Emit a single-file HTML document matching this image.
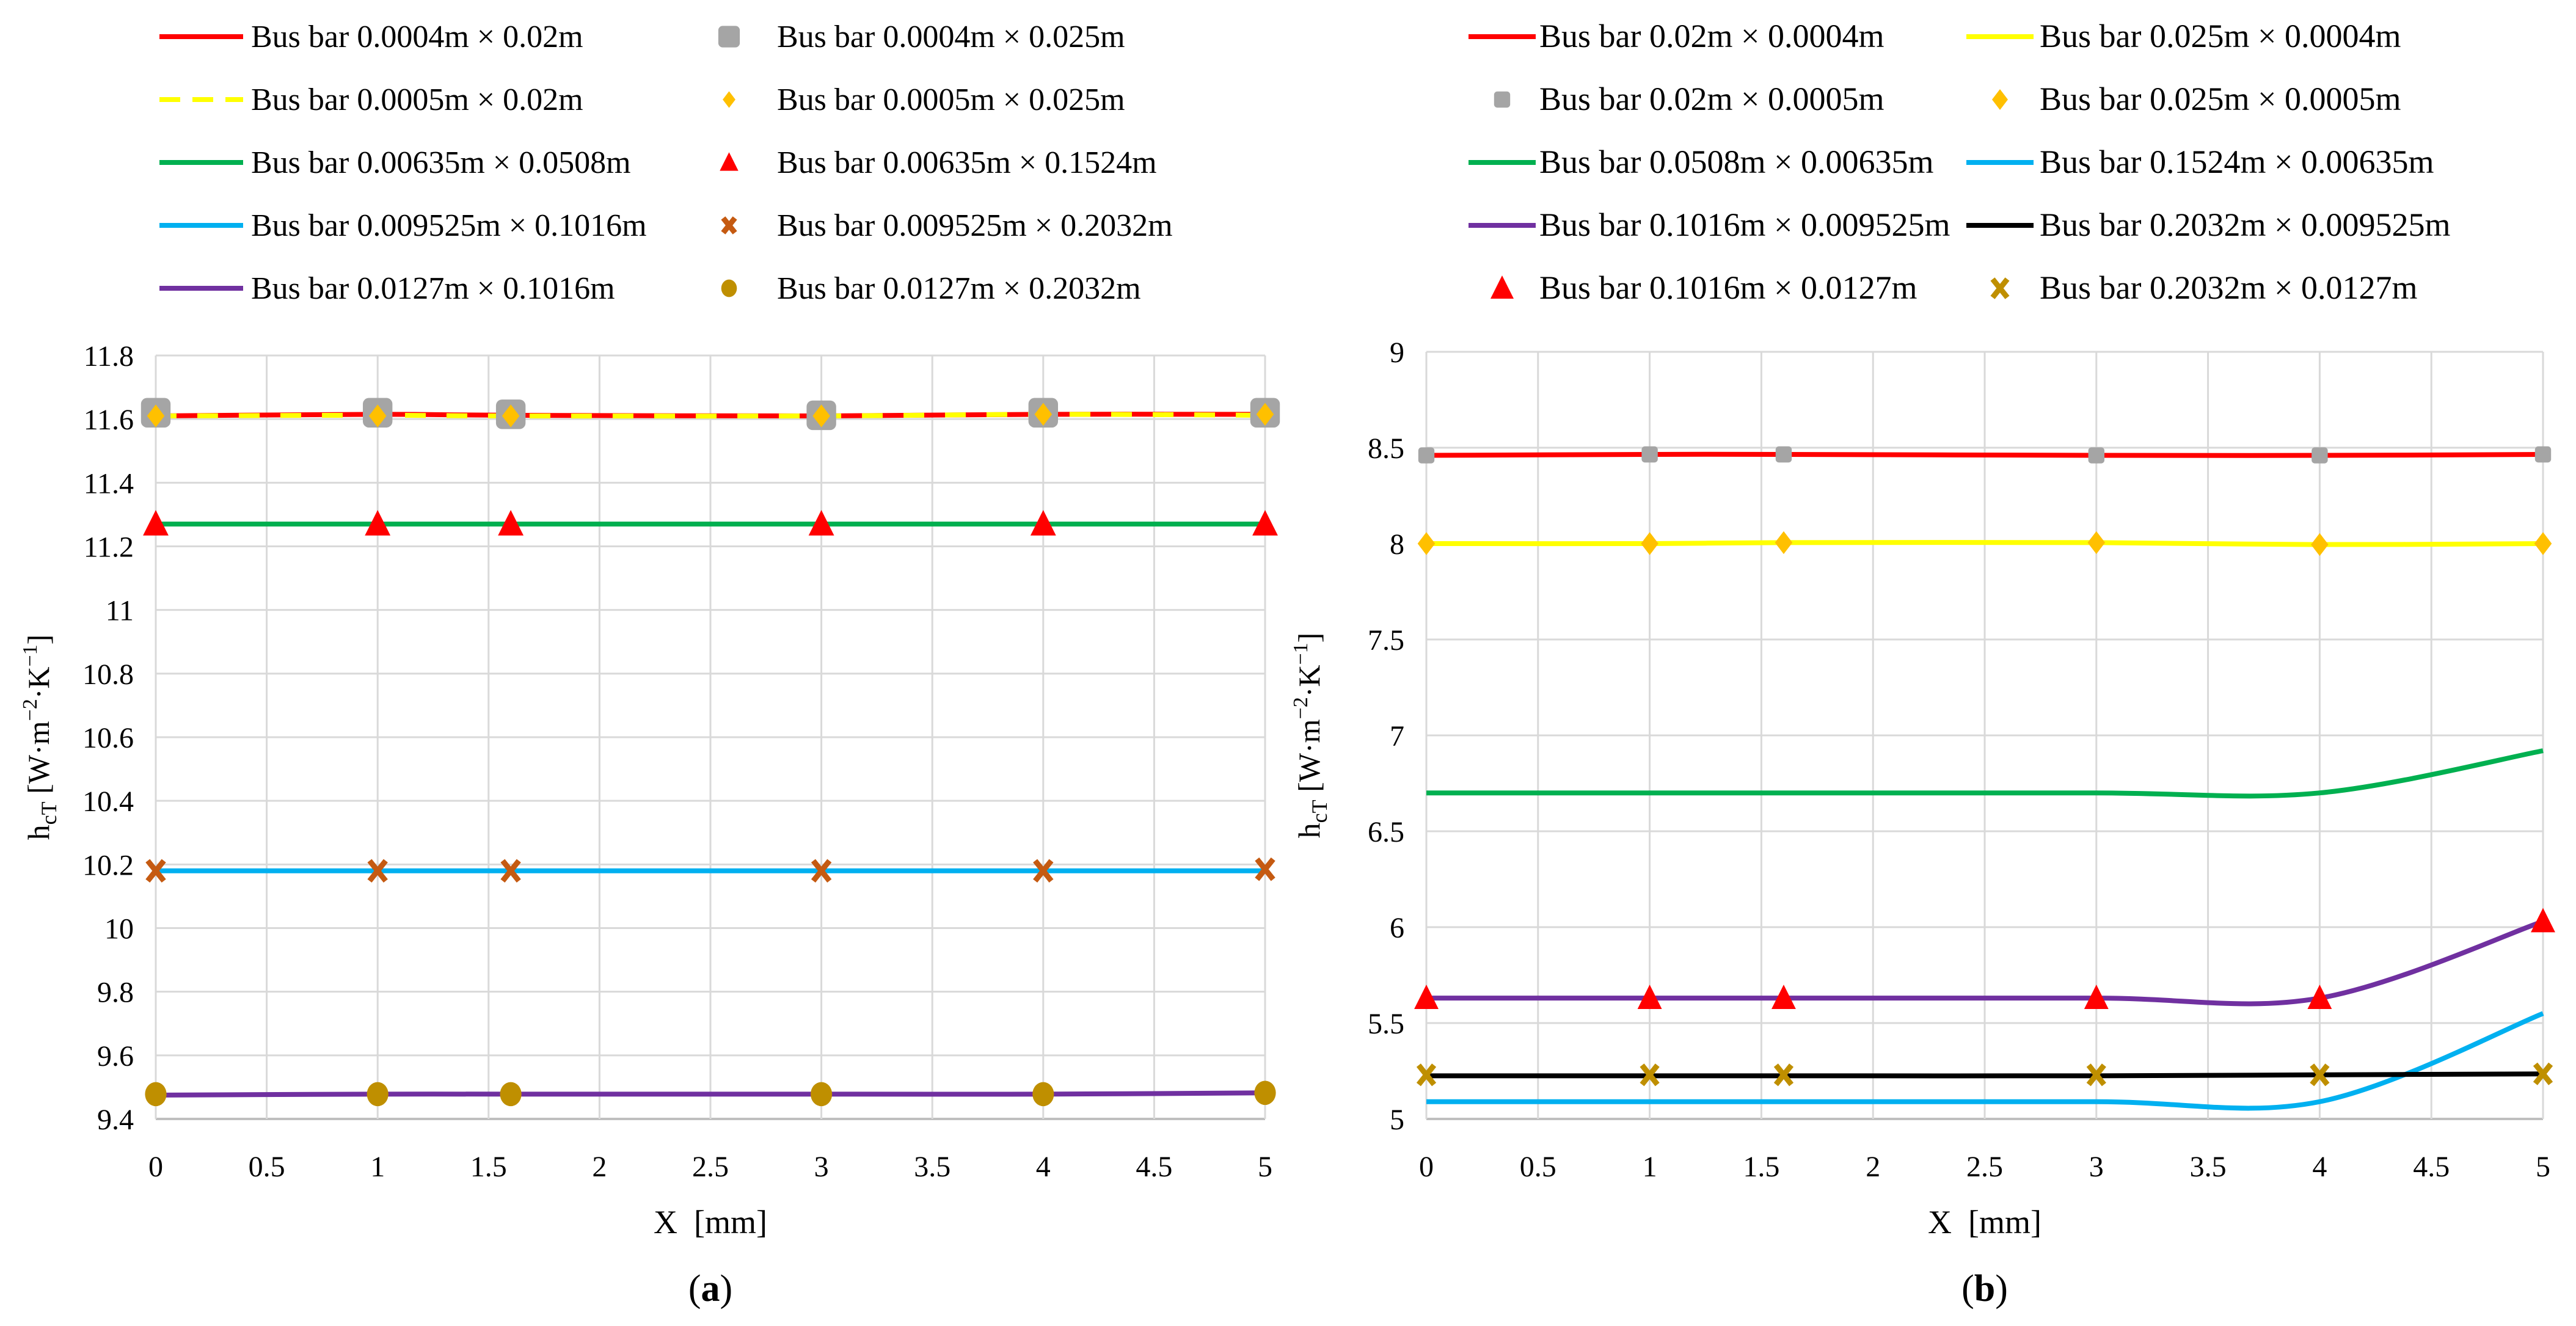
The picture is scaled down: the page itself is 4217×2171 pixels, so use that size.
<!DOCTYPE html>
<html><head><meta charset="utf-8">
<style>
html,body{margin:0;padding:0;background:#fff;}
svg{display:block;}
text{font-family:"Liberation Serif",serif;fill:#000;}
</style></head>
<body>
<svg id="fig" width="4217" height="2171" viewBox="0 0 4217 2171" xmlns="http://www.w3.org/2000/svg"></svg>
<script>
// ---------- data: chart (a) ----------
const xA = [0, 1, 1.6, 3, 4, 5];
const aRed = [11.61, 11.615, 11.612, 11.61, 11.615, 11.615];
const aYellow = [11.61, 11.612, 11.61, 11.61, 11.615, 11.612];
const aGreen = [11.27, 11.27, 11.27, 11.27, 11.27, 11.27];
const aCyan = [10.18, 10.18, 10.18, 10.18, 10.18, 10.18];
const aPurple = [9.475, 9.478, 9.478, 9.478, 9.478, 9.482];
const aGreySq = [11.62, 11.62, 11.615, 11.612, 11.62, 11.62];
const aDiamond = [11.61, 11.61, 11.61, 11.61, 11.615, 11.615];
const aTriangle = [11.27, 11.27, 11.27, 11.27, 11.27, 11.27];
const aCross = [10.18, 10.18, 10.18, 10.18, 10.18, 10.185];
const aCircle = [9.478, 9.478, 9.478, 9.478, 9.478, 9.482];
const yTicksA = ["9.4","9.6","9.8","10","10.2","10.4","10.6","10.8","11","11.2","11.4","11.6","11.8"];
// ---------- data: chart (b) ----------
const xB = [0, 1, 1.6, 3, 4, 5];
const bRed = [8.46, 8.465, 8.465, 8.46, 8.46, 8.465];
const bYellow = [8.0, 8.0, 8.005, 8.005, 7.995, 8.0];
const bGreen = [6.7, 6.7, 6.7, 6.7, 6.7, 6.92];
const bCyan = [5.09, 5.09, 5.09, 5.09, 5.09, 5.55];
const bPurple = [5.63, 5.63, 5.63, 5.63, 5.63, 6.03];
const bBlack = [5.225, 5.225, 5.225, 5.225, 5.23, 5.235];
const bGreySq = [8.46, 8.465, 8.465, 8.46, 8.46, 8.465];
const bDiamond = [8.0, 8.0, 8.005, 8.005, 7.995, 8.0];
const bTriangle = [5.63, 5.63, 5.63, 5.63, 5.63, 6.03];
const bCross = [5.23, 5.23, 5.23, 5.23, 5.23, 5.235];
const yTicksB = ["5","5.5","6","6.5","7","7.5","8","8.5","9"];
const xTicks = ["0","0.5","1","1.5","2","2.5","3","3.5","4","4.5","5"];

const NS = "http://www.w3.org/2000/svg";
const svg = document.getElementById('fig');
function el(tag, attrs, parent){
  const e = document.createElementNS(NS, tag);
  for (const k in attrs) e.setAttribute(k, attrs[k]);
  (parent||svg).appendChild(e);
  return e;
}
function spline(pts){
  let d = "M"+pts[0][0]+","+pts[0][1];
  for (let i=0;i<pts.length-1;i++){
    const p0=pts[Math.max(0,i-1)], p1=pts[i], p2=pts[i+1], p3=pts[Math.min(pts.length-1,i+2)];
    const c1x=p1[0]+(p2[0]-p0[0])/6, c1y=p1[1]+(p2[1]-p0[1])/6;
    const c2x=p2[0]-(p3[0]-p1[0])/6, c2y=p2[1]-(p3[1]-p1[1])/6;
    d += " C"+c1x+","+c1y+" "+c2x+","+c2y+" "+p2[0]+","+p2[1];
  }
  return d;
}
function marker(g, type, cx, cy, color, s){
  s = s||1;
  let m;
  if (type==='square') m = el('rect',{x:cx-22*s,y:cy-22*s,width:44*s,height:44*s,rx:9*s,fill:color},g);
  else if (type==='diamond') m = el('polygon',{points:`${cx},${cy-17*s} ${cx+13*s},${cy} ${cx},${cy+17*s} ${cx-13*s},${cy}`,fill:color},g);
  else if (type==='triangle') m = el('polygon',{points:`${cx},${cy-21*s} ${cx+19*s},${cy+17*s} ${cx-19*s},${cy+17*s}`,fill:color},g);
  else if (type==='circle') m = el('ellipse',{cx:cx,cy:cy,rx:16*s,ry:18*s,fill:color},g);
  else if (type==='cross'){
    m = el('path',{d:`M${cx-12*s},${cy-15*s} L${cx+12*s},${cy+15*s} M${cx+12*s},${cy-15*s} L${cx-12*s},${cy+15*s}`,stroke:color,'stroke-width':9,fill:'none'},g);
  }
  return m;
}
function chart(cfg){
  const g = el('g',{});
  
  
  const L=cfg.left,R=cfg.right,T=cfg.top,B=cfg.bottom;
  const sx = v => L + (v-0)/(5-0)*(R-L);
  const sy = v => B - (v-cfg.ymin)/(cfg.ymax-cfg.ymin)*(B-T);
  cfg.yTicks.forEach(t=>{
    const v=parseFloat(t), y=sy(v);
    const ln = el('line',{x1:L,x2:R,y1:y,y2:y,stroke:v===cfg.ymin?'#bfbfbf':'#d9d9d9','stroke-width':v===cfg.ymin?4:3},g);
    
    
    const tx = el('text',{x:L-36,y:y+17,'font-size':48,'text-anchor':'end','font-family':cfg.tickFont},g);
    tx.textContent=t;
    
    
  });
  xTicks.forEach(t=>{
    const v=parseFloat(t), x=sx(v);
    const ln = el('line',{x1:x,x2:x,y1:T,y2:B,stroke:'#d9d9d9','stroke-width':3},g);
    
    
    const tx = el('text',{x:x,y:B+94,'font-size':48,'text-anchor':'middle','font-family':cfg.tickFont},g);
    tx.textContent=t;
    
    
  });
  const xt = el('text',{x:(L+R)/2,y:B+187,'font-size':54,'text-anchor':'middle'},g);
  xt.innerHTML='X&#160;&#160;[mm]';
  
  
  const yt = el('text',{transform:`translate(${L-175},${(T+B)/2}) rotate(-90)`,'font-size':50,'text-anchor':'middle'},g);
  yt.innerHTML='h<tspan font-size="36" dy="12">cT</tspan><tspan dy="-12"> [W·m</tspan><tspan font-size="34" dy="-20">−2</tspan><tspan dy="20">·K</tspan><tspan font-size="34" dy="-20">−1</tspan><tspan dy="20">]</tspan>';
  
  
  const cap = el('text',{x:(L+R)/2,y:2130,'font-size':62,'text-anchor':'middle'},g);
  cap.innerHTML='(<tspan font-weight="bold">'+cfg.cap+'</tspan>)';
  
  
  cfg.lines.forEach(s=>{
    const pts = cfg.x.map((xv,i)=>[sx(xv),sy(s.v[i])]);
    const p = el('path',{d:spline(pts),stroke:s.c,'stroke-width':8,fill:'none'},g);
    if (s.dash) p.setAttribute('stroke-dasharray', s.dash);
    
    
  });
  cfg.marks.forEach(s=>{
    const mg = el('g',{},g);
    
    
    cfg.x.forEach((xv,i)=>{ marker(mg, s.t, sx(xv), sy(s.v[i]), s.c, s.s); });
  });
  cfg.legend.forEach((it,i)=>{
    const col = i%2, row = Math.floor(i/2);
    const lx = cfg.legX[col], ly = 60 + row*103;
    const lg = el('g',{},g);
    
    
    if (it.t==='line'){
      const l = el('line',{x1:lx,x2:lx+cfg.legLen,y1:ly,y2:ly,stroke:it.c,'stroke-width':8},lg);
      if (it.dash) l.setAttribute('stroke-dasharray', it.dash);
    } else marker(lg, it.t, lx+cfg.legLen/2, ly, it.c, it.s||0.8);
    const tx = el('text',{x:cfg.legT[col],y:ly+17,'font-size':cfg.legFont},lg);
    tx.textContent = it.label;
  });
}
const RED='#ff0000',YEL='#ffff00',GRN='#00b050',CYN='#00b0f0',PUR='#7030a0',GRY='#a5a5a5',ORG='#ffc000',BRN='#bf8f00',CRS='#c55a11';
chart({name:'chart-a',cap:'a',left:255,right:2071,top:582,bottom:1832,ymin:9.4,ymax:11.8,x:xA,yTicks:yTicksA,tickFont:'Liberation Serif, serif',
  lines:[{v:aGreen,c:GRN,name:'line-00635x05080'},{v:aCyan,c:CYN,name:'line-009525x1016'},{v:aPurple,c:PUR,name:'line-0127x1016'},
         {v:aRed,c:RED,name:'line-00004x002'},{v:aYellow,c:YEL,dash:'34,34',name:'line-00005x002'}],
  marks:[{v:aGreySq,t:'square',c:GRY,s:1.1,name:'markers-00004x0025'},{v:aDiamond,t:'diamond',c:ORG,s:1.1,name:'markers-00005x0025'},
         {v:aTriangle,t:'triangle',c:RED,s:1.1,name:'markers-00635x1524'},{v:aCross,t:'cross',c:CRS,s:1.1,name:'markers-009525x2032'},
         {v:aCircle,t:'circle',c:BRN,s:1.1,name:'markers-0127x2032'}],
  legX:[261,1125],legLen:137,legT:[411,1272],legFont:52,
  legend:[{t:'line',c:RED,label:'Bus bar 0.0004m × 0.02m'},{t:'square',c:GRY,label:'Bus bar 0.0004m × 0.025m'},
          {t:'line',c:YEL,dash:'34,20',label:'Bus bar 0.0005m × 0.02m'},{t:'diamond',c:ORG,label:'Bus bar 0.0005m × 0.025m'},
          {t:'line',c:GRN,label:'Bus bar 0.00635m × 0.0508m'},{t:'triangle',c:RED,label:'Bus bar 0.00635m × 0.1524m'},
          {t:'line',c:CYN,label:'Bus bar 0.009525m × 0.1016m'},{t:'cross',c:CRS,label:'Bus bar 0.009525m × 0.2032m'},
          {t:'line',c:PUR,label:'Bus bar 0.0127m × 0.1016m'},{t:'circle',c:BRN,label:'Bus bar 0.0127m × 0.2032m'}]
});
chart({name:'chart-b',cap:'b',left:2335,right:4163,top:576,bottom:1832,ymin:5,ymax:9,x:xB,yTicks:yTicksB,tickFont:'Liberation Sans, sans-serif',
  lines:[{v:bRed,c:RED,name:'line-002x00004'},{v:bYellow,c:YEL,name:'line-0025x00004'},{v:bGreen,c:GRN,name:'line-00508x000635'},
         {v:bCyan,c:CYN,name:'line-01524x000635'},{v:bPurple,c:PUR,name:'line-01016x0009525'},{v:bBlack,c:'#000000',name:'line-02032x0009525'}],
  marks:[{v:bGreySq,t:'square',c:GRY,s:0.6,name:'markers-002x00005'},{v:bDiamond,t:'diamond',c:ORG,s:1.1,name:'markers-0025x00005'},
         {v:bTriangle,t:'triangle',c:RED,s:1.05,name:'markers-01016x00127'},{v:bCross,t:'cross',c:BRN,s:1.05,name:'markers-02032x00127'}],
  legX:[2404,3219],legLen:110,legT:[2520,3339],legFont:54,
  legend:[{t:'line',c:RED,label:'Bus bar 0.02m × 0.0004m'},{t:'line',c:YEL,label:'Bus bar 0.025m × 0.0004m'},
          {t:'square',c:GRY,s:0.6,label:'Bus bar 0.02m × 0.0005m'},{t:'diamond',c:ORG,s:1,label:'Bus bar 0.025m × 0.0005m'},
          {t:'line',c:GRN,label:'Bus bar 0.0508m × 0.00635m'},{t:'line',c:CYN,label:'Bus bar 0.1524m × 0.00635m'},
          {t:'line',c:PUR,label:'Bus bar 0.1016m × 0.009525m'},{t:'line',c:'#000000',label:'Bus bar 0.2032m × 0.009525m'},
          {t:'triangle',c:RED,s:1,label:'Bus bar 0.1016m × 0.0127m'},{t:'cross',c:BRN,s:1,label:'Bus bar 0.2032m × 0.0127m'}]
});
</script>
</body></html>
